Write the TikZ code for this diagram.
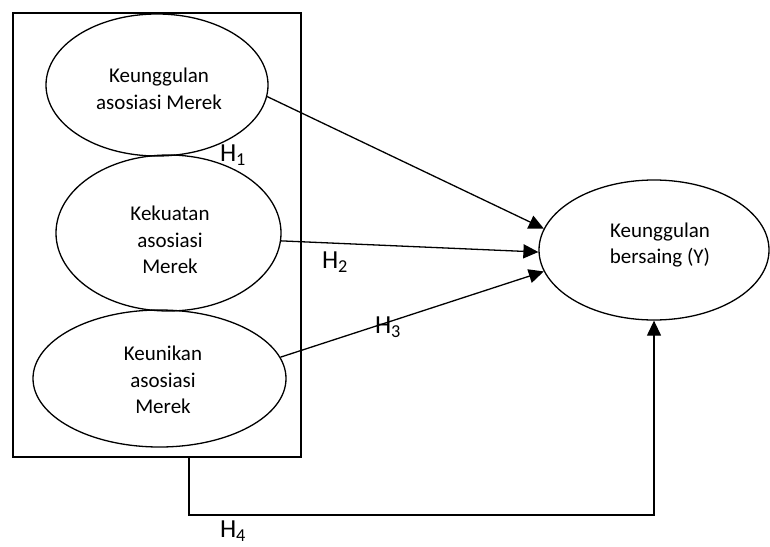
\documentclass[tikz,border=0pt]{standalone}
\usepackage{fontspec}
\setmainfont{Carlito}
\usetikzlibrary{shapes.geometric,arrows.meta}
\tikzset{
  oval/.style={draw, line width=1.3pt, ellipse, inner sep=0pt},
  txt/.style={align=center, inner sep=0pt, font=\fontsize{21}{26.5}\selectfont},
  conn/.style={line width=1.3pt, -{Triangle[length=15pt,width=14pt]}},
  hlab/.style={font=\fontsize{26}{30}\selectfont, inner sep=0pt}
}
\begin{document}
\begin{tikzpicture}[x=1pt,y=-1pt]
\useasboundingbox (0,0) rectangle (770,546);
\node[draw, line width=1.3pt, minimum width=288pt, minimum height=444pt, inner sep=0pt] (box) at (157,235) {};
\node[oval, minimum width=222pt, minimum height=142pt] (e1) at (157,85) {};
\node[oval, minimum width=225pt, minimum height=156pt] (e2) at (168.5,233) {};
\node[oval, minimum width=253pt, minimum height=137pt] (e3) at (159.5,378.5) {};
\node[oval, minimum width=230pt, minimum height=140pt] (y) at (654,250) {};
\node[txt] (t1) at (159,89) {Keunggulan\\asosiasi Merek};
\node[txt] (t2) at (170,240) {Kekuatan\\asosiasi\\Merek};
\node[txt] (t3) at (163,380) {Keunikan\\asosiasi\\Merek};
\node[txt] (ty) at (660,245) {Keunggulan\\bersaing (Y)};
\draw[conn] (e1.-6) -- (y.169);
\draw[conn] (e2.-4) -- (y.181);
\draw[conn] (e3.10) -- (y.191);
\coordinate (h4s) at (189,457);
\draw[conn] (h4s) -- ++(0,58) -| (y.south);
\node[hlab] (h1) at (233,155) {H\textsubscript{1}};
\node[hlab] (h2) at (335,262) {H\textsubscript{2}};
\node[hlab] (h3) at (388,327) {H\textsubscript{3}};
\node[hlab] (h4) at (233,531) {H\textsubscript{4}};
\end{tikzpicture}
\end{document}
